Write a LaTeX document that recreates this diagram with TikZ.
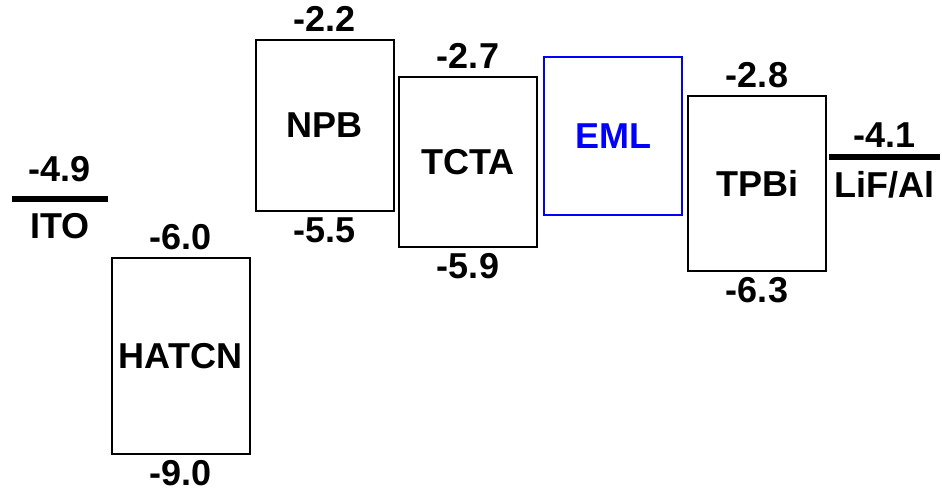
\documentclass[tikz,border=0pt]{standalone}
\usepackage{fontspec}
\setmainfont{Liberation Sans}
\usetikzlibrary{positioning}

\begin{document}
\begin{tikzpicture}[x=0.5pt, y=0.5pt,
  every node/.style={font=\fontsize{18}{20}\selectfont\bfseries, inner sep=0pt},
  layer/.style={draw, line width=1pt, minimum width=69pt},
  electrode/.style={fill=black, minimum height=3pt}]
  \useasboundingbox (0,0) rectangle (942,488);
  % transport layers with LUMO / HOMO values
  \foreach \n/\x/\y/\h/\t/\up/\down in {hatcn/180.5/132/98/HATCN/-6.0/-9.0,
      npb/324.5/362.5/85.5/NPB/-2.2/-5.5, tcta/468/326/85/TCTA/-2.7/-5.9,
      tpbi/757/304.5/87.5/TPBi/-2.8/-6.3} {
    \node[layer, minimum height=\h pt] (\n) at (\x,\y) {\t};
    \node[above=3.5pt of \n] (\n lumo) {\up};
    \node[below=2.5pt of \n] (\n homo) {\down};
  }
  \node[layer, draw=blue, text=blue, minimum height=79pt] (eml) at (613,352) {EML};
  % electrodes
  \node[electrode, minimum width=48pt] (ito) at (60,289) {};
  \node[above=6.5pt of ito] (itolevel) {-4.9};
  \node[below=5.5pt of ito] (itoname) {ITO};
  \node[electrode, minimum width=55.5pt] (lifal) at (884.5,331) {};
  \node[above=3pt of lifal] (lifallevel) {-4.1};
  \node[below=5.5pt of lifal] (lifalname) {LiF/Al};
\end{tikzpicture}
\end{document}
